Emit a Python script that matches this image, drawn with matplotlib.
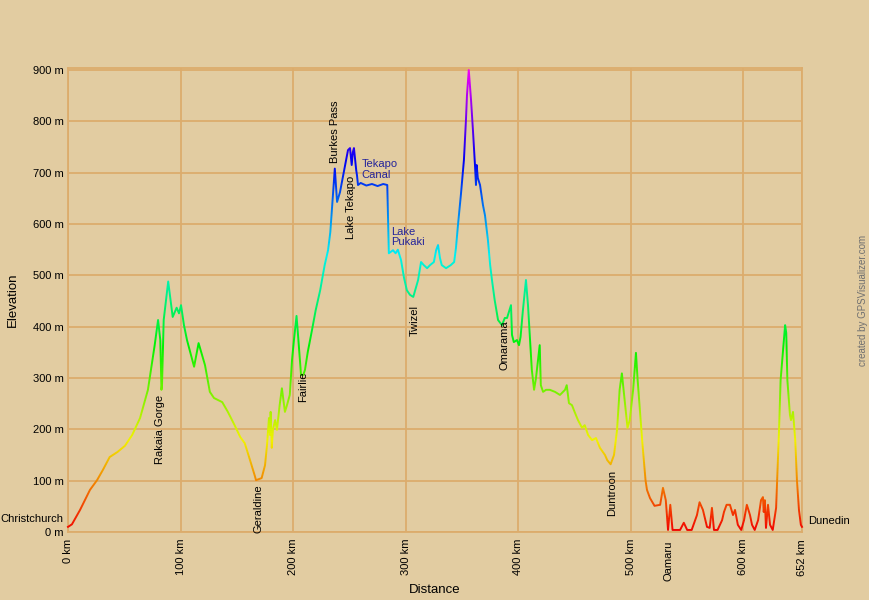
import colorsys
import matplotlib
matplotlib.use('Agg')
import matplotlib.pyplot as plt
from matplotlib.patches import Rectangle

plt.rcParams['font.family'] = ['Liberation Sans', 'DejaVu Sans']

# profile: distance (km) / elevation (m)
dist = [0, 3.5, 10.7, 19.5, 25.8, 31, 37, 44, 50.6, 57, 64, 71, 77, 80, 82, 83, 83.5, 85, 89, 93,
        96.5, 98.6, 100.4, 103, 105.7, 112, 116, 121.7, 126, 129.7, 137, 142, 148, 153, 157, 161.7,
        166, 167, 172, 175, 176.8, 178.5, 179.5, 180, 181, 182, 184, 185.6, 188, 190, 192.7, 194.5,
        197, 199, 200.7, 203, 204, 207, 209, 210.5, 213, 216.7, 220, 224, 228, 231, 233, 235, 237,
        239, 241.6, 244, 247, 248.7, 250.5, 252, 253, 254, 256, 256.7, 257.6, 260, 265, 270, 275,
        280, 283.6, 285, 288.7, 291, 293, 295.8, 298.5, 301, 303.8, 306.7, 311, 313.6, 316, 319,
        321.6, 325, 327, 328.7, 330.4, 332, 335.8, 340, 343, 344.6, 346.4, 349, 351.7, 353.5, 354.4,
        356, 358, 359.7, 361.5, 362.4, 363, 364, 366, 368.6, 370.4, 373, 375, 376.6, 379, 382,
        385.5, 388, 390, 393.5, 394.4, 396, 398.8, 400.6, 402, 404, 406.8, 408.6, 410.4, 412, 414,
        415.7, 419, 420, 422, 424.6, 428, 432.6, 437, 441.5, 443, 445, 447.7, 450, 453, 456.6, 459,
        462, 465.5, 469, 472.5, 477, 479, 482, 485, 487.7, 490, 492, 494, 497, 499, 502, 504.5, 506,
        508, 510, 513, 514.3, 517, 521, 526, 528.5, 531, 533, 535, 537, 540, 543.7, 547, 550, 554,
        558.7, 561, 564, 567.6, 570, 572, 573.8, 577, 581, 582.7, 585, 588, 590.7, 592.5, 595, 598,
        600.5, 603, 605.8, 607.6, 610, 613, 615.6, 617.3, 618, 619, 620, 621.8, 623.6, 626, 629,
        631.6, 633, 637, 638, 639, 641.3, 642.2, 644, 646, 647.5, 649.3, 651, 652]
elev = [10, 15, 43, 82, 101, 121, 146, 156, 168, 189, 222, 277, 364, 413, 374, 277, 286, 413, 488, 419,
        437, 426, 442, 403, 374, 322, 368, 325, 273, 261, 253, 234, 208, 185, 173, 140,
        109, 101, 105, 130, 170, 222, 189, 234, 164, 199, 218, 199, 247, 280, 234, 247,
        267, 335, 374, 421, 393, 306, 306, 316, 351, 393, 432, 471, 520, 549, 584, 647, 708,
        643, 662, 690, 725, 744, 748, 715, 740, 748, 705, 695, 676, 680, 675, 678, 674,
        678, 676, 543, 549, 543, 550, 530, 495, 471, 462, 458, 491, 526, 520, 514,
        520, 526, 549, 559, 534, 520, 514, 520, 526, 553, 598, 657, 725, 803, 851,
        900, 842, 783, 715, 676, 715, 690, 676, 637, 617, 569, 520, 491, 452, 413,
        403, 417, 417, 442, 384, 370, 374, 364, 380, 430, 491, 442, 374, 316, 277,
        300, 364, 286, 273, 277, 277, 273, 267, 277, 286, 251, 247, 234, 218, 203, 208,
        189, 179, 183, 164, 150, 140, 132, 150, 199, 277, 309, 267, 203, 218, 277, 349, 296,
        238, 179, 101, 82, 66, 51, 53, 86, 62, 4, 53, 4, 4, 4, 18, 4, 4,
        33, 58, 43, 10, 8, 47, 4, 4, 23, 39, 53, 53, 33, 43, 14, 4,
        23, 53, 33, 14, 4, 23, 62, 68, 39, 62, 8, 53, 14, 4, 47,
        199, 296, 403, 388, 296, 228, 218, 234, 179, 101, 43, 14, 10]

y_ticks = [0, 100, 200, 300, 400, 500, 600, 700, 800, 900]
x_ticks = [0, 100, 200, 300, 400, 500, 600, 652]

# (text, km, m, vertical alignment)
places = [("Rakaia Gorge", 81.7, 267, 'top'), ("Geraldine", 168.8, 92, 'top'),
          ("Fairlie", 208.7, 312, 'top'), ("Burkes Pass", 237, 719, 'bottom'),
          ("Lake Tekapo", 251.4, 695, 'top'), ("Twizel", 308, 442, 'top'),
          ("Omarama", 388, 413, 'top'), ("Duntroon", 483, 121, 'top'),
          ("Oamaru", 533, -16, 'top')]
lakes = [("Tekapo\nCanal", 261, 726), ("Lake\nPukaki", 287, 595)]

bg = '#e2cca1'
grid_c = '#dcac6c'
fs = 8

fig = plt.figure(figsize=(8.69, 6.0), dpi=100, facecolor=bg)
ax = fig.add_axes([68/869, 68/600, 734/869, 464/600], facecolor=bg)
ax.set_xlim(0, 652)
ax.set_ylim(0, 904)

# colour by height: red at 0 m through to magenta at 900 m
step = 4
for lo in range(0, 904, step):
    h = (lo + step / 2) / 900 * 300 / 360
    c = colorsys.hsv_to_rgb(min(h, 300 / 360), 1.0, 0.95)
    ln, = ax.plot(dist, elev, color=c, lw=1.4, zorder=3)
    ln.set_clip_path(Rectangle((-20, lo), 700, step, transform=ax.transData))

ax.set_yticks(y_ticks)
ax.set_yticklabels([f"{v} m" for v in y_ticks], fontsize=fs)
ax.set_xticks(x_ticks)
ax.set_xticklabels([f"{v} km" for v in x_ticks], fontsize=fs, rotation=90)
ax.tick_params(length=0, pad=3)
ax.tick_params(axis='x', pad=5)
ax.grid(True, color=grid_c, lw=1.3, zorder=1)
for s in ax.spines.values():
    s.set_color(grid_c)
    s.set_linewidth(1.3)

ax.set_xlabel("Distance", fontsize=9.5, labelpad=6)
ax.set_ylabel("Elevation", fontsize=9.5, labelpad=10)

ax.text(-4, 25, "Christchurch", ha='right', va='center', fontsize=fs)
ax.text(657, 21, "Dunedin", ha='left', va='center', fontsize=fs)
for name, x, y, va in places:
    ax.text(x, y, name, rotation=90, ha='center', va=va, fontsize=fs, zorder=4)
for name, x, y in lakes:
    ax.text(x, y, name, ha='left', va='top', fontsize=fs, color='#24249a',
            linespacing=1.1, zorder=4)

fig.text(863/869, 1 - 300/600, "created by GPSVisualizer.com", rotation=90,
         ha='center', va='center', fontsize=7, color='#707070')

fig.savefig('out.png', dpi=100, facecolor=bg)
